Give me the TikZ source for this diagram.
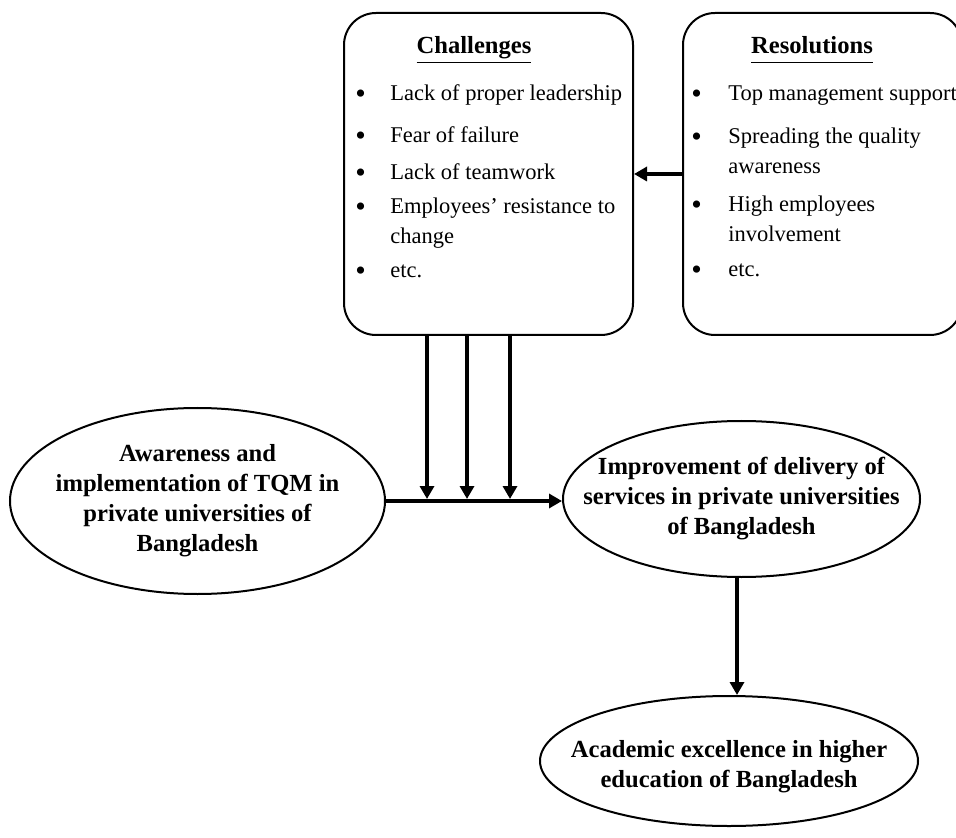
\documentclass[tikz,border=0pt]{standalone}
\usepackage{fontspec}
\setmainfont{Liberation Serif}
\usetikzlibrary{shapes.geometric,arrows.meta}

\newcommand{\bul}[1]{\makebox[#1][l]{\raisebox{-1.5pt}{\fontsize{15}{15}\selectfont\textbullet}}}

\begin{document}
\begin{tikzpicture}[x=0.5pt,y=-0.5pt]
        \tikzstyle{box}=[draw,line width=1pt,rounded corners=16pt,inner sep=0pt]
        \tikzstyle{oval}=[draw,ellipse,line width=1pt,inner sep=0pt]
        \tikzstyle{head}=[font=\fontsize{12.3}{15.5}\selectfont\bfseries,inner sep=0pt,anchor=base]
        \tikzstyle{list}=[font=\fontsize{11.25}{15}\selectfont,inner sep=0pt,anchor=base west]
        \tikzstyle{otext}=[font=\fontsize{12.3}{15}\selectfont\bfseries,align=center,inner sep=0pt]
        \tikzstyle{arr}=[line width=2pt,-{Triangle[width=7pt,length=6.5pt]}]
        \useasboundingbox (0,0) rectangle (956,838);
       \begin{scope}
         % top boxes
         \node [box,minimum width=144.5pt,minimum height=161pt] (chal) at (488.5,174) {};
         \node [box,minimum width=139.5pt,minimum height=161pt] (res) at (822.5,174) {};
         \node [head] (chalhead) at (474,54) {\underline{Challenges}};
         \node [head] (reshead) at (812,54) {\underline{Resolutions\vphantom{g}}};
         \node [list] (challist) at (355,101) {\begin{tabular}[t]{@{}l@{}l@{}}
           \bul{17.5pt} & Lack of proper leadership\\[6pt]
           \bul{17.5pt} & Fear of failure\\[3.5pt]
           \bul{17.5pt} & Lack of teamwork\\[2pt]
           \bul{17.5pt} & Employees’ resistance to\\
           & change\\[2pt]
           \bul{17.5pt} & etc.
         \end{tabular}};
         \node [list] (reslist) at (691,101) {\begin{tabular}[t]{@{}l@{}l@{}}
           \bul{18.5pt} & Top management support\\[6.5pt]
           \bul{18.5pt} & Spreading the quality\\
           & awareness\\[4pt]
           \bul{18.5pt} & High employees\\
           & involvement\\[2.5pt]
           \bul{18.5pt} & etc.
         \end{tabular}};

         % ovals
         \node [oval,minimum width=187.5pt,minimum height=93pt] (aware) at (197.5,501) {};
         \node [otext] (awaretext) at (aware) {Awareness and\\implementation of TQM in\\private universities of\\Bangladesh};
         \node [oval,minimum width=178.5pt,minimum height=78pt] (improve) at (741.5,499) {};
         \node [otext] (improvetext) at (improve) {Improvement of delivery of\\services in private universities\\of Bangladesh};
         \node [oval,minimum width=189pt,minimum height=65pt] (excel) at (729,761) {};
         \node [otext] (exceltext) at ([yshift=-3pt]excel.center) {Academic excellence in higher\\education of Bangladesh};

         % connectors
         \draw [arr] (res.west) -- (chal.east);
         \draw [arr,line width=1.75pt] (aware.east) -- (aware.east -| improve.west);
         \foreach \x/\n in {427/1,467/2,510/3} {
           \coordinate (d\n) at (\x,499);
           \draw [arr] (d\n |- chal.south) -- (d\n);
         }
         \coordinate (down) at (737,0);
         \draw [arr] (down |- improve.south) -- (down |- excel.north);
        \end{scope}
\end{tikzpicture}
\end{document}
